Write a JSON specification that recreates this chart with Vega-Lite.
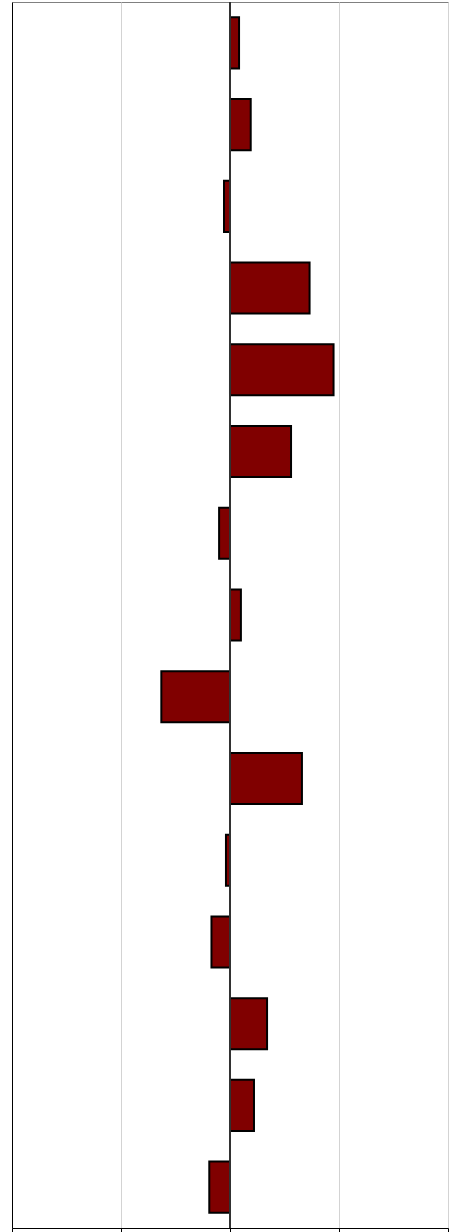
{
  "$schema": "https://vega.github.io/schema/vega-lite/v6.json",
  "width": 436,
  "height": 1226,
  "autosize": {"type": "none"},
  "padding": {"left": 12, "top": 2, "right": 11, "bottom": 4},
  "background": "white",
  "config": {
    "view": {"stroke": "#808080", "strokeWidth": 1}
  },
  "data": {
    "values": [
      {"i": 1, "v": 0.083},
      {"i": 2, "v": 0.19},
      {"i": 3, "v": -0.055},
      {"i": 4, "v": 0.73},
      {"i": 5, "v": 0.95},
      {"i": 6, "v": 0.56},
      {"i": 7, "v": -0.10},
      {"i": 8, "v": 0.10},
      {"i": 9, "v": -0.63},
      {"i": 10, "v": 0.66},
      {"i": 11, "v": -0.037},
      {"i": 12, "v": -0.17},
      {"i": 13, "v": 0.34},
      {"i": 14, "v": 0.22},
      {"i": 15, "v": -0.19}
    ]
  },
  "encoding": {
    "x": {
      "field": "v", "type": "quantitative",
      "scale": {"domain": [-2, 2], "nice": false, "zero": false},
      "axis": {"labels": false, "title": null, "values": [-2, -1, 0, 1, 2], "tickSize": 4, "tickColor": "black", "domainColor": "black", "gridColor": "#d3d3d3", "grid": true, "gridOpacity": 1}
    }
  },
  "layer": [
    {
      "mark": {"type": "bar", "color": "#800000", "stroke": "black", "strokeWidth": 2},
      "encoding": {
        "y": {
          "field": "i", "type": "ordinal", "sort": null,
          "scale": {"paddingInner": 0.375, "paddingOuter": 0.1875},
          "axis": {"labels": false, "ticks": false, "title": null, "domainColor": "black", "grid": false}
        }
      }
    },
    {
      "mark": {"type": "rule", "color": "#333333", "strokeWidth": 1},
      "encoding": {"x": {"datum": 0, "type": "quantitative"}}
    }
  ]
}
